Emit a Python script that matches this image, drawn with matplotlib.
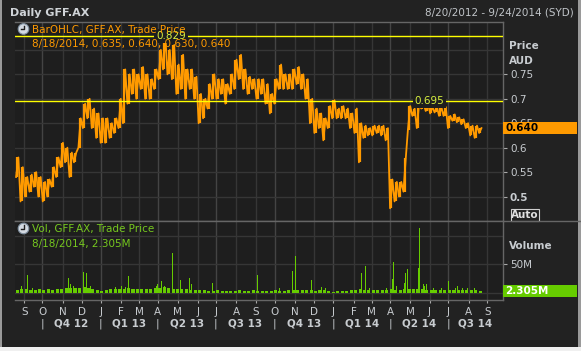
import numpy as np
import pandas as pd
import matplotlib
matplotlib.use('Agg')
import matplotlib.pyplot as plt
from matplotlib.patches import Rectangle, Circle

W, H = 581, 351

# ---- data -------------------------------------------------------------
start_date = '2012-08-20'
end_date = '2014-09-24'
first_week = '2012-08-22'      # mid-week date of the first weekly bar

# weekly low / high of GFF.AX (AUD)
week_low = [0.54, 0.49, 0.50, 0.51, 0.52, 0.50, 0.49, 0.50, 0.52, 0.54,
            0.56, 0.57, 0.54, 0.57, 0.60, 0.64, 0.66, 0.64, 0.62, 0.61,
            0.61, 0.62, 0.63, 0.64, 0.65, 0.69, 0.71, 0.70, 0.72, 0.70,
            0.70, 0.72, 0.74, 0.76, 0.75, 0.74, 0.71, 0.72, 0.70, 0.72,
            0.70, 0.65, 0.66, 0.68, 0.70, 0.70, 0.71, 0.69, 0.71, 0.72,
            0.74, 0.72, 0.71, 0.72, 0.70, 0.71, 0.69, 0.67, 0.69, 0.72,
            0.72, 0.72, 0.72, 0.73, 0.72, 0.70, 0.65, 0.63, 0.64, 0.615,
            0.64, 0.66, 0.66, 0.66, 0.66, 0.64, 0.63, 0.57, 0.62, 0.625,
            0.625, 0.63, 0.625, 0.615, 0.476, 0.49, 0.50, 0.51, 0.636, 0.665,
            0.64, 0.68, 0.675, 0.67, 0.672, 0.665, 0.665, 0.64, 0.655, 0.652,
            0.648, 0.64, 0.625, 0.62, 0.63]
week_high = [0.58, 0.56, 0.54, 0.545, 0.55, 0.54, 0.53, 0.535, 0.56, 0.58,
             0.61, 0.60, 0.59, 0.59, 0.66, 0.69, 0.70, 0.68, 0.67, 0.66,
             0.66, 0.65, 0.66, 0.70, 0.76, 0.75, 0.76, 0.75, 0.765, 0.75,
             0.74, 0.76, 0.80, 0.829, 0.80, 0.81, 0.77, 0.79, 0.76, 0.76,
             0.745, 0.71, 0.70, 0.73, 0.75, 0.74, 0.74, 0.73, 0.75, 0.78,
             0.79, 0.76, 0.745, 0.74, 0.74, 0.74, 0.73, 0.71, 0.74, 0.77,
             0.75, 0.75, 0.76, 0.765, 0.75, 0.74, 0.70, 0.68, 0.67, 0.66,
             0.685, 0.697, 0.68, 0.685, 0.68, 0.67, 0.68, 0.65, 0.645, 0.64,
             0.645, 0.645, 0.645, 0.64, 0.535, 0.53, 0.53, 0.578, 0.685, 0.68,
             0.69, 0.69, 0.69, 0.683, 0.683, 0.683, 0.683, 0.665, 0.668, 0.662,
             0.658, 0.65, 0.645, 0.645, 0.64]
# typical daily volume in each week (millions)
week_vol = [5, 7, 6, 5, 5, 6, 5, 6, 5, 6,
            7, 8, 9, 8, 9, 10, 9, 7, 4, 3,
            4, 6, 6, 7, 7, 8, 7, 6, 6, 7,
            7, 8, 9, 10, 8, 7, 7, 6, 6, 5,
            4, 4, 4, 3, 3, 4, 3, 3, 3, 3,
            4, 3, 3, 4, 3, 3, 3, 3, 4, 3,
            3, 4, 5, 5, 4, 4, 4, 3, 4, 4,
            3, 2, 3, 3, 3, 4, 5, 6, 5, 4,
            4, 4, 5, 4, 7, 5, 5, 6, 7, 6,
            7, 6, 5, 5, 4, 4, 4, 5, 4, 4,
            4, 5, 4, 4, 3]
# single heavy-volume days (millions)
spike_dates = ['2012-08-29', '2012-09-07', '2012-09-14', '2012-11-12', '2012-11-14',
               '2012-11-19', '2012-11-27', '2012-12-04', '2012-12-10', '2012-12-14',
               '2013-01-23', '2013-02-01', '2013-02-08', '2013-02-13', '2013-03-28',
               '2013-04-01', '2013-04-05', '2013-04-10', '2013-04-23', '2013-05-06',
               '2013-05-20', '2013-05-23', '2013-06-25', '2013-09-04', '2013-10-09',
               '2013-10-29', '2013-11-01', '2013-11-27', '2013-11-28', '2013-12-13',
               '2013-12-19', '2014-02-14', '2014-02-20', '2014-02-27', '2014-03-26',
               '2014-04-03', '2014-04-07', '2014-04-10', '2014-04-23', '2014-04-24',
               '2014-04-28', '2014-05-15', '2014-05-16', '2014-05-22', '2014-05-23',
               '2014-05-28', '2014-06-06', '2014-06-19', '2014-07-01', '2014-07-11',
               '2014-07-15', '2014-07-23', '2014-07-31', '2014-08-11']
spike_vols = [12, 30.7, 9, 26.7, 15,
              12, 9, 36.5, 35.4, 12,
              10, 12, 10, 29.5, 12,
              15, 20.7, 12, 69.3, 22,
              25.4, 15, 17.9, 31.2, 9,
              38, 64.6, 22, 15, 10,
              9, 34.2, 47, 9, 9,
              24.9, 54, 12, 17.9, 35.4,
              41.2, 43, 113, 15, 12,
              15, 9, 9, 20.7, 9,
              12, 9, 9, 9]

price_levels = [0.829, 0.695]
price_ticks = [0.5, 0.55, 0.6, 0.65, 0.7, 0.75]
last_bar = '8/18/2014, 0.635, 0.640, 0.630, 0.640'
last_close = 0.640
last_vol = 2.305

# ---- positions --------------------------------------------------------
bdays = pd.bdate_range(start_date, end_date)
N = len(bdays)
wx = bdays.get_indexer(pd.date_range(first_week, periods=len(week_low), freq='7D'))
sx = bdays.get_indexer(pd.to_datetime(spike_dates))
months = bdays.to_series().groupby(bdays.to_period('M')).first()
month_x = bdays.get_indexer(months.values)[1:]
month_lbl = [d.strftime('%b')[0] for d in months.index.to_timestamp()][1:]
quarter_x = [x for x, d in zip(month_x, months.index[1:]) if d.month in (1, 4, 7, 10)]
quarter_lbl = ['Q%d %s' % ((d.month - 1) // 3 + 1, str(d.year)[2:])
               for d in months.index[1:] if d.month in (1, 4, 7, 10)]

BG = '#222222'
PANEL = '#1e1e1e'
GRID = '#363636'
QGRID = '#444444'
EDGE = '#666666'
TXT = '#c8ccd0'
ORANGE = '#ff9a00'
GREEN = '#66cc00'
YEL = '#ffff00'

plt.rcParams['font.family'] = ['DejaVu Sans']

fig = plt.figure(figsize=(W / 100, H / 100), dpi=100, facecolor=BG)
pax = fig.add_axes([15 / W, 1 - 221 / H, 488 / W, 199 / H], facecolor=PANEL)
vax = fig.add_axes([15 / W, 1 - 300 / H, 488 / W, 79 / H], facecolor=PANEL)

for ax in (pax, vax):
    ax.set_xlim(-0.5, N - 0.5)
    for x in month_x:
        ax.axvline(x, color=QGRID if x in quarter_x else GRID, lw=1, zorder=0)
    for s in ax.spines.values():
        s.set_color(EDGE)
        s.set_linewidth(1)
    ax.spines['left'].set_visible(False)

# price panel: weekly ranges as vertical bars, joined low/high zigzag for the daily texture
pax.set_ylim(0.45, 0.857)
for g in np.arange(0.5, 0.85, 0.05):
    pax.axhline(g, color=GRID, lw=1, zorder=0)
lo = np.array(week_low)
hi = np.array(week_high)
pax.vlines(wx, lo, hi, color=ORANGE, lw=1.6, zorder=2)
zx = np.ravel(np.column_stack([wx - 1.3, wx + 1.3]))
zy = np.ravel(np.column_stack([lo, hi]))
pax.plot(zx, zy, color=ORANGE, lw=1.3, zorder=2)
for lvl, lx in zip(price_levels, [175, 465]):
    pax.axhline(lvl, color=YEL, lw=1, zorder=3)
    pax.text(lx, lvl, '%.3f' % lvl, color='#d8f040', fontsize=7.5, ha='center', va='center',
             zorder=4, bbox=dict(fc=PANEL, ec='none', pad=1.5))
pax.yaxis.tick_right()
pax.set_yticks(price_ticks)
pax.set_yticklabels(['%g' % t for t in price_ticks])
pax.tick_params(axis='y', colors='#aaaaaa', labelcolor=TXT, labelsize=7.5, length=3, pad=2)
pax.get_yticklabels()[0].set_fontweight('bold')
pax.tick_params(axis='x', bottom=False, labelbottom=False)

# volume panel
vax.set_ylim(-12.9, 126.2)
for g in [0, 50, 100]:
    vax.axhline(g, color=GRID, lw=1, zorder=0)
vax.bar(wx, week_vol, width=3.4, color=GREEN, lw=0, zorder=2)
vax.bar(sx, spike_vols, width=1.1, color=GREEN, lw=0, zorder=2)
vax.yaxis.tick_right()
vax.set_yticks([50])
vax.set_yticklabels(['50M'])
vax.tick_params(axis='y', colors='#aaaaaa', labelcolor=TXT, labelsize=7.5, length=3, pad=2)
vax.set_xticks(month_x)
vax.set_xticklabels(month_lbl)
vax.tick_params(axis='x', colors='#aaaaaa', labelcolor=TXT, labelsize=7.5, length=2, pad=3)

# overlay in pixel coordinates for the frame texts
oax = fig.add_axes([0, 0, 1, 1], zorder=10)
oax.set_xlim(0, W)
oax.set_ylim(H, 0)
oax.axis('off')
oax.patch.set_alpha(0)

oax.text(10, 12.5, 'Daily GFF.AX', color='#d0d4d8', fontsize=8, fontweight='bold', va='center')
oax.text(574, 12.5, '8/20/2012 - 9/24/2014 (SYD)', color='#c0c4c8', fontsize=7.5,
         ha='right', va='center')
oax.plot([503, W], [221, 221], color=EDGE, lw=1)

for cy in (29, 228.5):
    oax.add_patch(Circle((23.5, cy), 5.3, fc='#d4dae2', ec='#8090a0', lw=0.8))
    oax.plot([23.5, 23.5, 20.5], [cy - 3.5, cy, cy], color='#202020', lw=1)
oax.text(31.5, 30, 'BarOHLC, GFF.AX, Trade Price', color=ORANGE, fontsize=7.5, va='center')
oax.text(31.5, 43.5, last_bar, color=ORANGE, fontsize=7.5, va='center')
oax.text(31.5, 229, 'Vol, GFF.AX, Trade Price', color='#76c81e', fontsize=7.5, va='center')
oax.text(31.5, 243.5, '8/18/2014, %.3fM' % last_vol, color='#76c81e', fontsize=7.5, va='center')

oax.text(509, 46, 'Price', color=TXT, fontsize=7.5, fontweight='bold', va='center')
oax.text(509, 61, 'AUD', color=TXT, fontsize=7.5, fontweight='bold', va='center')
oax.text(509, 246, 'Volume', color=TXT, fontsize=7.5, fontweight='bold', va='center')

py = H - pax.transData.transform((0, last_close))[1]
oax.add_patch(Rectangle((503, py - 6), 74, 12, fc=ORANGE, ec='none'))
oax.text(505, py, '%.3f' % last_close, color='black', fontsize=7.5, fontweight='bold', va='center')
vy = H - vax.transData.transform((0, last_vol))[1]
oax.add_patch(Rectangle((503, vy - 6), 74, 12, fc=GREEN, ec='none'))
oax.text(505, vy, '%.3fM' % last_vol, color='white', fontsize=7.5, fontweight='bold', va='center')

oax.add_patch(Rectangle((510.5, 208.5), 28, 12, fc='none', ec='#d0d0d0', lw=0.8))
oax.text(524.5, 214.5, 'Auto', color='#e0e0e0', fontsize=7.5, fontweight='bold',
         ha='center', va='center')

# quarter row under the month letters
qx = [vax.transData.transform((x, 0))[0] for x in quarter_x] + [503]
for i, lbl in enumerate(quarter_lbl):
    oax.text(qx[i], 324, '|', color=TXT, fontsize=7.5, ha='center', va='center')
    oax.text((qx[i] + qx[i + 1]) / 2, 324, lbl, color=TXT, fontsize=7.5,
             fontweight='bold', ha='center', va='center')

# window frame
oax.add_patch(Rectangle((0, 0), 1.5, 347, fc='#9a9a9a', ec='none'))
oax.add_patch(Rectangle((578, 0), 3, 347, fc='#9a9a9a', ec='none'))
oax.add_patch(Rectangle((0, 347), W, 4, fc='#f0f0f0', ec='none'))

fig.savefig('out.png', dpi=100, facecolor=BG)
